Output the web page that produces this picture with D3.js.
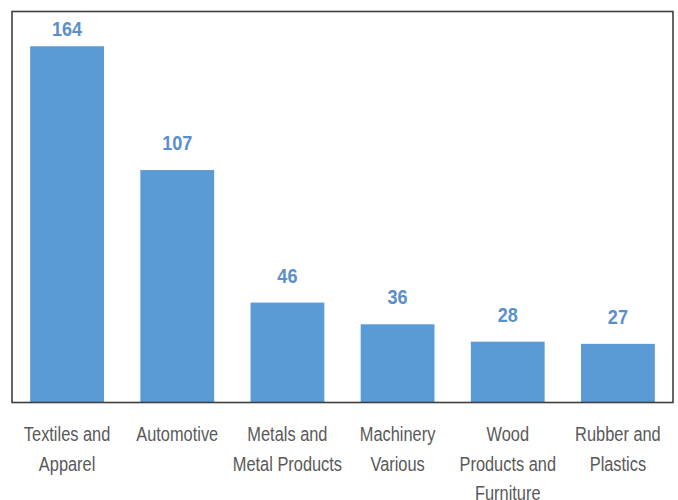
<!DOCTYPE html>
<html>
<head>
<meta charset="utf-8">
<script src="https://cdn.jsdelivr.net/npm/d3@7"></script>
<style>
  html, body { margin: 0; padding: 0; background: #ffffff; }
  svg { display: block; }
</style>
</head>
<body>
<svg id="chart" width="678" height="500"></svg>
<script>
// Industry counts
const categories = [
  ["Textiles and", "Apparel"],
  ["Automotive"],
  ["Metals and", "Metal Products"],
  ["Machinery", "Various"],
  ["Wood", "Products and", "Furniture"],
  ["Rubber and", "Plastics"]
];
const values = [164, 107, 46, 36, 28, 27];
const yMax = 180;

const svg = d3.select("#chart");
const plot = { left: 12, top: 11.5, right: 673, bottom: 402.5 };
const FONT = "'Liberation Sans', Arial, sans-serif";
// narrow look for the text: glyphs squeezed horizontally
const LABEL_SQUEEZE = 0.78;
const VALUE_SQUEEZE = 0.86;

const keys = categories.map(c => c.join(" "));

const x = d3.scaleBand()
  .domain(keys)
  .range([plot.left, plot.right])
  .paddingInner(0.33)
  .paddingOuter(0.165);

const y = d3.scaleLinear()
  .domain([0, yMax])
  .range([plot.bottom, plot.top]);

// bars
svg.append("g")
  .selectAll("rect")
  .data(values)
  .join("rect")
  .attr("x", (d, i) => x(keys[i]))
  .attr("y", d => y(d))
  .attr("width", x.bandwidth())
  .attr("height", d => y(0) - y(d))
  .attr("fill", "#5B9BD5");

// plot border; its bottom edge doubles as the category axis
svg.append("rect")
  .attr("x", plot.left)
  .attr("y", plot.top)
  .attr("width", plot.right - plot.left)
  .attr("height", plot.bottom - plot.top)
  .attr("fill", "none")
  .attr("stroke", "#3f3f3f")
  .attr("stroke-width", 1.6);

// value labels, kept inside the plot area
svg.append("g")
  .selectAll("g")
  .data(values)
  .join("g")
  .attr("transform", (d, i) =>
    `translate(${x(keys[i]) + x.bandwidth() / 2},${Math.max(y(d) - 20, plot.top + 24)}) scale(${VALUE_SQUEEZE},1)`)
  .append("text")
  .attr("text-anchor", "middle")
  .attr("font-family", FONT)
  .attr("font-weight", "bold")
  .attr("font-size", 21)
  .attr("fill", "#5B8FCB")
  .text(d => d);

// category labels, wrapped over lines
const xAxis = d3.axisBottom(x).tickSize(0).tickFormat("");
const gx = svg.append("g")
  .attr("transform", `translate(0,${plot.bottom})`)
  .call(xAxis);
gx.select(".domain").remove();

gx.selectAll(".tick").each(function(k, i) {
  const t = d3.select(this).append("g")
    .attr("transform", `scale(${LABEL_SQUEEZE},1)`)
    .append("text")
    .attr("text-anchor", "middle")
    .attr("font-family", FONT)
    .attr("font-size", 21)
    .attr("fill", "#595959");
  categories[i].forEach((line, j) => {
    t.append("tspan")
      .attr("x", 0)
      .attr("y", 39 + j * 29.5)
      .text(line);
  });
});
</script>
</body>
</html>
